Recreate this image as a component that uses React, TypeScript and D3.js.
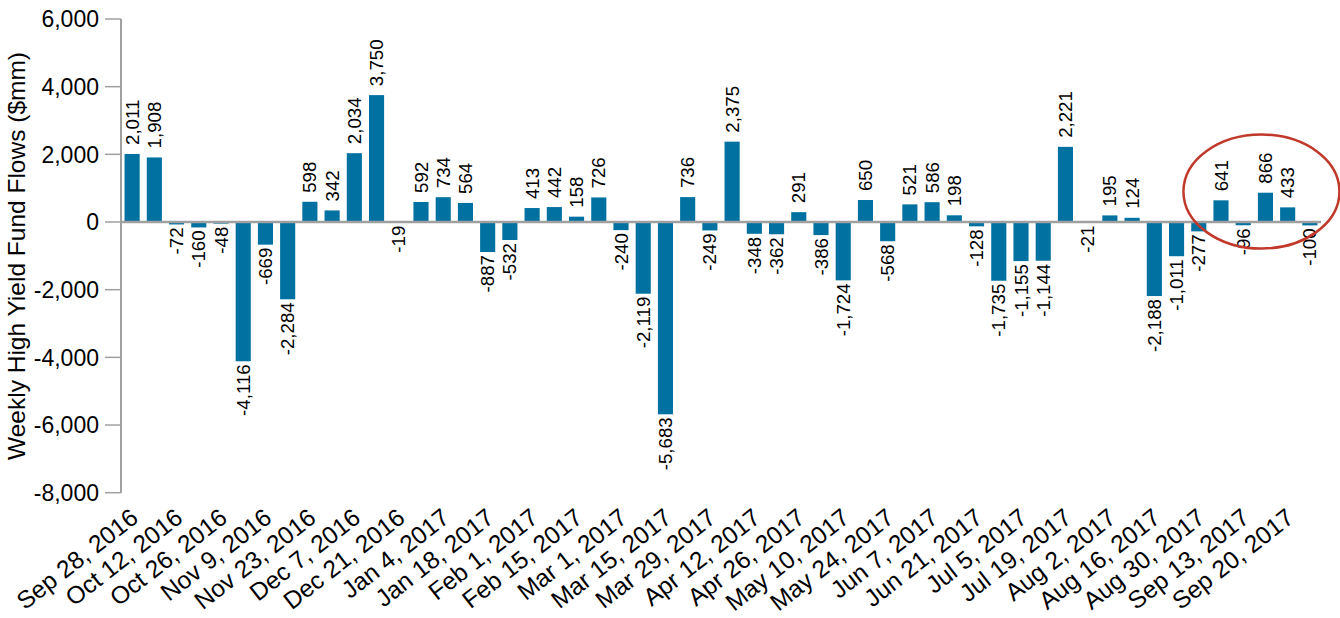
import React from "react";
import * as d3 from "d3";

const values: number[] = [
  2011, 1908, -72, -160, -48, -4116, -669, -2284, 598, 342, 2034, 3750, -19, 592,
  734, 564, -887, -532, 413, 442, 158, 726, -240, -2119, -5683, 736, -249, 2375,
  -348, -362, 291, -386, -1724, 650, -568, 521, 586, 198, -128, -1735, -1155,
  -1144, 2221, -21, 195, 124, -2188, -1011, -277, 641, -96, 866, 433, -100,
];

const xTickLabels: string[] = [
  "Sep 28, 2016", "Oct 12, 2016", "Oct 26, 2016", "Nov 9, 2016", "Nov 23, 2016",
  "Dec 7, 2016", "Dec 21, 2016", "Jan 4, 2017", "Jan 18, 2017", "Feb 1, 2017",
  "Feb 15, 2017", "Mar 1, 2017", "Mar 15, 2017", "Mar 29, 2017", "Apr 12, 2017",
  "Apr 26, 2017", "May 10, 2017", "May 24, 2017", "Jun 7, 2017", "Jun 21, 2017",
  "Jul 5, 2017", "Jul 19, 2017", "Aug 2, 2017", "Aug 16, 2017", "Aug 30, 2017",
  "Sep 13, 2017", "Sep 20, 2017",
];

const yTicks: number[] = [6000, 4000, 2000, 0, -2000, -4000, -6000, -8000];
const yTitle = "Weekly High Yield Fund Flows ($mm)";
const highlighted: number[] = [49, 50, 51, 52, 53];

const W = 1340;
const H = 618;
const FONT = "'Liberation Sans', Arial, Helvetica, sans-serif";
const BAR = "#0071a0";
const AXIS = "#a0a0a0";

const fmt = d3.formatLocale({
  decimal: ".",
  thousands: ",",
  grouping: [3],
  currency: ["$", ""],
  minus: "-",
}).format(",");

export default function App() {
  const idx = values.map((_, i) => String(i));
  const x = d3
    .scaleBand<string>()
    .domain(idx)
    .range([121, 1321])
    .paddingInner(0.32)
    .paddingOuter(0.16);
  const y = d3.scaleLinear().domain([-8000, 6000]).range([492.7, 19]);
  const bw = x.bandwidth();
  const cx = (i: number) => (x(String(i)) as number) + bw / 2;

  const hlCenter =
    (cx(highlighted[0]) + cx(highlighted[highlighted.length - 1])) / 2 - 4;

  return (
    <svg
      width={W}
      height={H}
      style={{ position: "absolute", left: 0, top: 0, background: "#fff" }}
      fontFamily={FONT}
    >
      {/* y axis */}
      <line x1={121} x2={121} y1={y(6000)} y2={y(-8000)} stroke={AXIS} strokeWidth={2} />
      {yTicks.map((t) => (
        <g key={t}>
          <line x1={105} x2={121} y1={y(t)} y2={y(t)} stroke={AXIS} strokeWidth={1.5} />
          <text
            x={99}
            y={y(t)}
            dy="0.36em"
            textAnchor="end"
            fontSize={23}
            fill="#000"
          >
            {fmt(t)}
          </text>
        </g>
      ))}
      <text
        transform={`translate(25, 256) rotate(-90)`}
        textAnchor="middle"
        fontSize={24.5}
        fill="#000"
      >
        {yTitle}
      </text>

      {/* bars */}
      {values.map((v, i) => (
        <rect
          key={i}
          x={x(String(i))}
          width={bw}
          y={y(Math.max(0, v))}
          height={Math.abs(y(v) - y(0))}
          fill={BAR}
        />
      ))}

      {/* zero line */}
      <line x1={121} x2={1321} y1={y(0)} y2={y(0)} stroke={AXIS} strokeWidth={2.5} />

      {/* value labels */}
      {values.map((v, i) => {
        const px = cx(i);
        const py = v >= 0 ? y(v) - 9 : y(v) + 3;
        return (
          <text
            key={i}
            transform={`translate(${px}, ${py}) rotate(-90)`}
            textAnchor={v >= 0 ? "start" : "end"}
            dy="0.35em"
            fontSize={18.7}
            fill="#000"
          >
            {fmt(v)}
          </text>
        );
      })}

      {/* x tick labels */}
      {xTickLabels.map((lab, k) => {
        const px = cx(k * 2) - 3;
        return (
          <text
            key={lab}
            transform={`translate(${px}, 507) rotate(-38)`}
            textAnchor="end"
            dy="0.71em"
            fontSize={24.5}
            fill="#000"
          >
            {lab}
          </text>
        );
      })}

      {/* highlight ellipse */}
      <ellipse
        cx={hlCenter}
        cy={y(900)}
        rx={78}
        ry={57}
        fill="none"
        stroke="#c0392b"
        strokeWidth={2.5}
      />
    </svg>
  );
}
